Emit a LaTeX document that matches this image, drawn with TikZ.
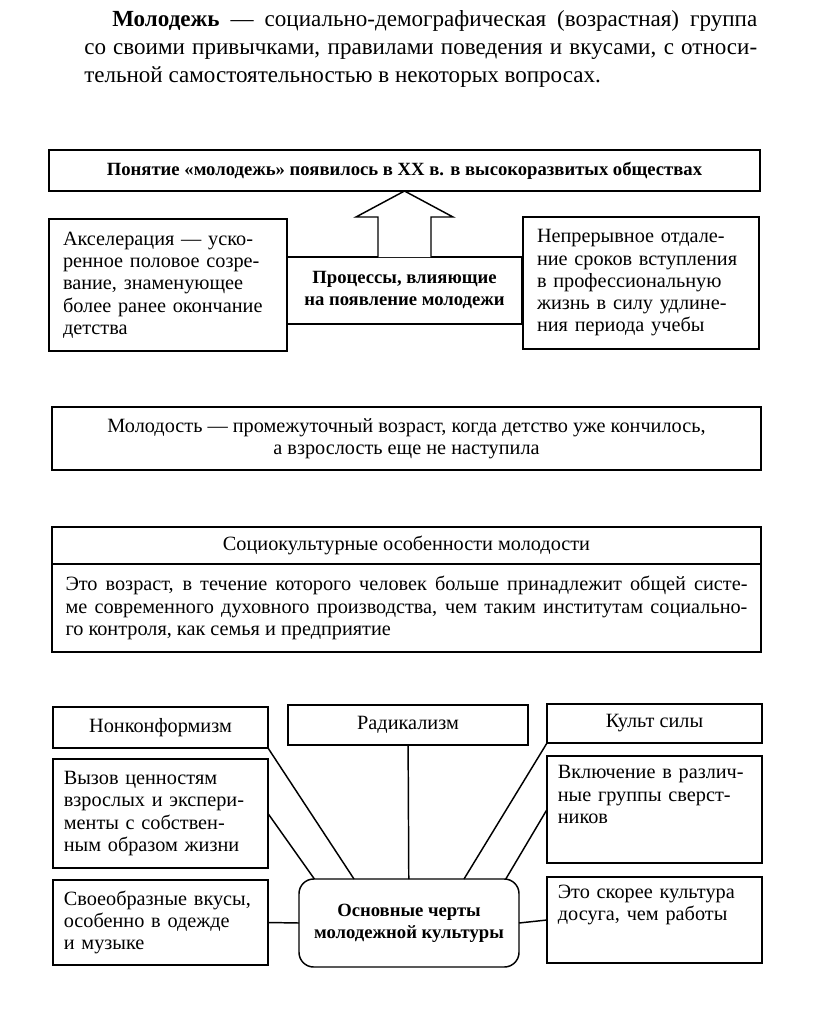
\documentclass[tikz,border=0pt]{standalone}
\usepackage{fontspec}
\setmainfont{Liberation Serif}
\usetikzlibrary{positioning, calc, shapes}
\tikzstyle{box} = [rectangle, draw=black, line width=1.1pt, outer sep=0pt, inner sep=0pt, text centered, font=\fontsize{15.2pt}{16.7pt}\selectfont]
\tikzstyle{strong} = [font=\fontsize{14pt}{16.5pt}\selectfont\bfseries]
\tikzstyle{link} = [line width=1.1pt]
\newcommand{\toppar}[2]{\parbox[c][#1][t]{\linewidth}{\raggedright #2}}

\begin{document}
\begin{tikzpicture}[x=0.75pt, y=-0.75pt]
    \path[use as bounding box, fill=white] (0,0) rectangle (816,1028);

    % Определение
    \node (intro) [anchor=north west, text width=504.75pt, align=justify, inner sep=0pt, font=\fontsize{17.3pt}{21pt}\selectfont] at (84,10) {\hspace*{21pt}\textbf{Молодежь} — социально-демографическая (возрастная) группа\linebreak со своими привычками, правилами поведения и вкусами, с относи-\linebreak тельной самостоятельностью в некоторых вопросах.};

    % Появление молодежи
    \node (top) [box, strong, minimum width=533.25pt, minimum height=30.75pt] at (404.5,170.5) {Понятие «молодежь» появилось в XX в. в высокоразвитых обществах};
    \node (acc) [box, minimum width=178.5pt, minimum height=99pt, text width=157.5pt, align=left] at (168,285) {Акселерация — уско-\\ренное половое созре-\\вание, знаменующее\\более ранее окончание\\детства};
    \node (delay) [box, minimum width=177pt, minimum height=99pt, text width=156pt, align=left] at (641,283) {Непрерывное отдале-\\ние сроков вступления\\в профессиональную\\жизнь в силу удлине-\\ния периода учебы};
    \node (proc) [box, strong, fill=white, minimum width=176.25pt, minimum height=50.25pt, align=center] at (404.5,290.5) {Процессы, влияющие\\на появление молодежи};
    \draw[link, fill=white] ($(proc.north)+(-26.5,0)$) -- ++(0,-40) -- ++(-22,0) -- (top.south) -- ($(proc.north)+(48.5,-40)$) -- ++(-22,0) -- ++(0,40);

    % Молодость
    \node (young) [box, minimum width=531.75pt, minimum height=47.25pt, align=center] at (406.5,438.5) {Молодость — промежуточный возраст, когда детство уже кончилось,\\а взрослость еще не наступила};

    % Социокультурные особенности
    \node (soc) [box, minimum width=531.75pt, minimum height=27.75pt] at (406.5,545.5) {Социокультурные особенности молодости};
    \node (socb) [box, below=0pt of soc, minimum width=531.75pt, minimum height=66pt, text width=511.5pt, align=justify] {Это возраст, в течение которого человек больше принадлежит общей систе-\linebreak ме современного духовного производства, чем таким институтам социально-\linebreak го контроля, как семья и предприятие};

    % Черты молодежной культуры
    \node (nonc) [box, minimum width=161.25pt, minimum height=30.75pt] at (160.5,727.5) {Нонконформизм};
    \node (rad) [box, minimum width=180pt, minimum height=30pt] at (408,725) {Радикализм};
    \node (kult) [box, minimum width=161.25pt, minimum height=29.25pt] at (654.5,723.5) {Культ силы};
    \node (lmid) [box, minimum width=161.25pt, minimum height=81.75pt, text width=145pt, align=left] at (160.5,813.5) {Вызов ценностям\\взрослых и экспери-\\менты с собствен-\\ным образом жизни};
    \node (lbot) [box, minimum width=161.25pt, minimum height=63.75pt, text width=145pt, align=left] at (160.5,922.5) {Своеобразные вкусы,\\особенно в одежде\\и музыке};
    \node (rmid) [box, minimum width=161.25pt, minimum height=80.25pt, text width=145pt, align=left] at (654.5,809.5) {\toppar{66pt}{Включение в различ-\\ные группы сверст-\\ников}};
    \node (rbot) [box, minimum width=161.25pt, minimum height=64.5pt, text width=145pt, align=left] at (654.5,920) {\toppar{52.5pt}{Это скорее культура\\досуга, чем работы}};
    \node (core) [box, strong, rounded corners=11pt, minimum width=165pt, minimum height=66pt, align=center] at (409,923) {Основные черты\\молодежной культуры};

    \draw[link] (nonc.south east) -- ($(core.north west)!0.25!(core.north east)$);
    \draw[link] (lmid.east) -- ($(core.north west)!0.07!(core.north east)$);
    \draw[link] (lbot.east) -- (core.west);
    \draw[link] (rad) -- (core);
    \draw[link] (kult.south west) -- ($(core.north west)!0.75!(core.north east)$);
    \draw[link] (rmid.west) -- ($(core.north west)!0.94!(core.north east)$);
    \draw[link] (rbot.west) -- (core.east);
\end{tikzpicture}
\end{document}
